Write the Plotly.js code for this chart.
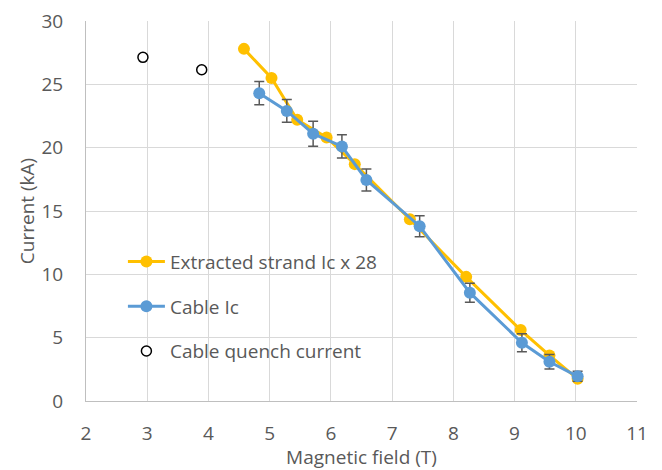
<!DOCTYPE html>
<html>
<head>
<meta charset="utf-8">
<script src="https://cdn.plot.ly/plotly-3.0.1.min.js"></script>
<style>html,body{margin:0;padding:0;background:#fff;}#chart{width:662px;height:470px;}</style>
</head>
<body>
<div id="chart"></div>
<script>
// Extracted strand Ic x 28
const strandField = [4.58, 5.03, 5.45, 5.93, 6.39, 7.29, 8.21, 9.10, 9.57, 10.03];
const strandCurrent = [27.8, 25.5, 22.2, 20.8, 18.7, 14.35, 9.8, 5.6, 3.6, 1.75];
// Cable Ic
const cableField = [4.83, 5.28, 5.71, 6.18, 6.58, 7.45, 8.27, 9.12, 9.57, 10.03];
const cableCurrent = [24.3, 22.9, 21.1, 20.1, 17.45, 13.8, 8.55, 4.6, 3.1, 1.95];
const cableError = [0.92, 0.9, 0.98, 0.92, 0.87, 0.83, 0.75, 0.71, 0.58, 0.4];
// Cable quench current
const quenchField = [2.93, 3.89];
const quenchCurrent = [27.13, 26.15];

const seriesNames = ['Extracted strand Ic x 28', 'Cable Ic', 'Cable quench current'];
const xTicks = [2, 3, 4, 5, 6, 7, 8, 9, 10, 11];
const yTicks = [0, 5, 10, 15, 20, 25, 30];

const FONT = '"Open Sans", Lato, sans-serif';
const FS = 19;
const TXT = '#595959';

const traces = [
  {
    x: strandField, y: strandCurrent, name: seriesNames[0], legendgroup: 'a',
    type: 'scatter', mode: 'lines+markers',
    line: {color: '#FFC000', width: 3},
    marker: {color: '#FFC000', size: 12}
  },
  {
    x: cableField, y: cableCurrent, name: seriesNames[1], legendgroup: 'b',
    type: 'scatter', mode: 'lines+markers',
    line: {color: '#5B9BD5', width: 3},
    marker: {color: '#5B9BD5', size: 12},
    error_y: {type: 'data', array: cableError, visible: true, color: '#595959', thickness: 1.5, width: 5}
  },
  {
    x: quenchField, y: quenchCurrent, name: seriesNames[2], legendgroup: 'c',
    type: 'scatter', mode: 'markers',
    marker: {color: '#FFFFFF', size: 10, line: {color: '#000000', width: 1.5}}
  }
];

const layout = {
  width: 662, height: 470,
  margin: {l: 86, r: 25, t: 21, b: 69},
  paper_bgcolor: '#FFFFFF', plot_bgcolor: '#FFFFFF',
  font: {family: FONT, size: FS, color: TXT},
  showlegend: true,
  legend: {
    x: 0.067, y: 0.248, xanchor: 'left', yanchor: 'middle',
    bgcolor: 'rgba(255,255,255,0)', borderwidth: 0,
    itemwidth: 37,
    font: {family: FONT, size: FS, color: TXT},
    traceorder: 'grouped', tracegroupgap: 17
  },
  xaxis: {
    range: [2, 11], tickvals: xTicks, ticktext: xTicks.map(String),
    showgrid: true, gridcolor: '#D9D9D9', gridwidth: 1,
    zeroline: false, showline: true, linecolor: '#BFBFBF', linewidth: 1,
    ticks: '', ticklabelstandoff: 15,
    tickfont: {family: FONT, size: FS, color: TXT},
    title: {text: 'Magnetic field (T)', font: {family: FONT, size: FS, color: TXT}, standoff: 0}
  },
  yaxis: {
    range: [0, 30], tickvals: yTicks, ticktext: yTicks.map(String),
    showgrid: true, gridcolor: '#D9D9D9', gridwidth: 1,
    zeroline: false, showline: true, linecolor: '#BFBFBF', linewidth: 1,
    ticks: '', ticklabelstandoff: 18,
    tickfont: {family: FONT, size: FS, color: TXT},
    title: {text: 'Current (kA)', font: {family: FONT, size: FS, color: TXT}, standoff: 1}
  }
};

Plotly.newPlot('chart', traces, layout, {displayModeBar: false, staticPlot: true});
</script>
</body>
</html>
